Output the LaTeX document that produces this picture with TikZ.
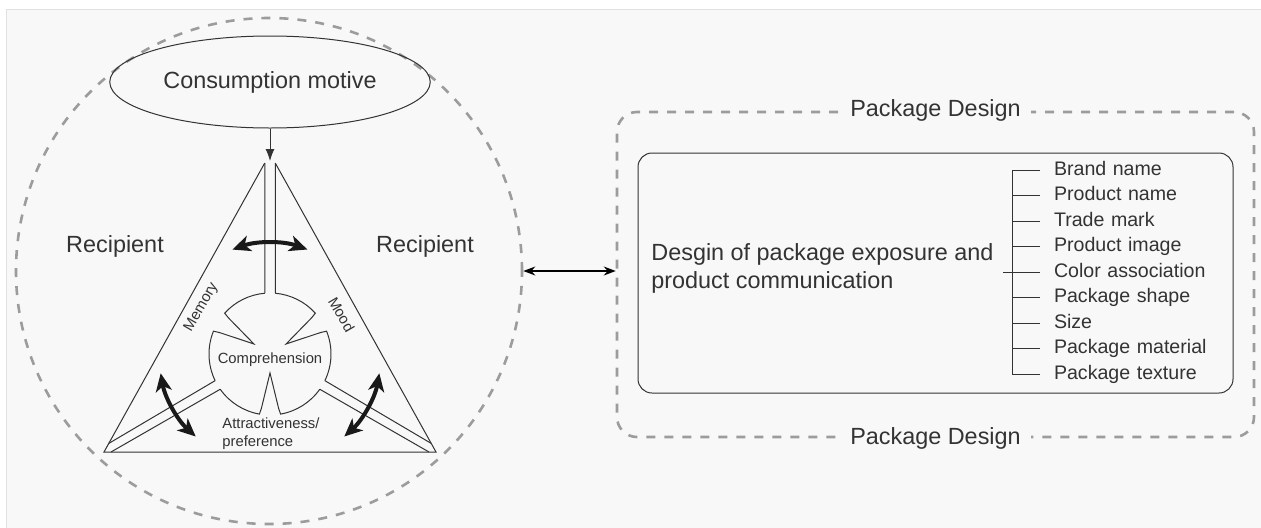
\documentclass[tikz,border=0pt]{standalone}
\usepackage{fontspec}
\setmainfont{Liberation Sans}
\usetikzlibrary{arrows.meta,shapes.geometric}

\definecolor{panel}{HTML}{F8F8F8}
\definecolor{ink}{HTML}{333333}
\definecolor{dashgray}{HTML}{9C9C9C}

\begin{document}
\begin{tikzpicture}[x=0.5pt, y=0.5pt, node distance = 12.75pt,
    big/.style = {font=\fontsize{11.7}{14}\selectfont, text=ink},
    small/.style = {font=\fontsize{7.4}{9}\selectfont, text=ink, inner sep=0pt},
    item/.style = {font=\fontsize{9.8}{12}\selectfont, text=ink, text width=80pt,
                   align=left, inner xsep=0pt, inner ysep=1pt,
                   text height=7.2pt, text depth=2pt},
    gdash/.style = {draw=dashgray, line width=1.3pt, dash pattern=on 4.5pt off 4.5pt},
    ln/.style = {draw=ink, line width=0.5pt},
    swing/.style = {draw=black!90, line width=2pt,
                    arrows={Stealth[length=9pt,width=8pt,inset=2.5pt]-Stealth[length=9pt,width=8pt,inset=2.5pt]}}]
    \useasboundingbox (0,0) rectangle (1261,527);
    \fill[white] (0,0) rectangle (1261,527);
    \filldraw[fill=panel, draw=black!12] (6,-5) rectangle (1270,518);

    % left part
    \node[circle, gdash, minimum size=253pt] (recv) at (269,256) {};
    \node[ellipse, ln, minimum width=128pt, minimum height=46pt, big] (motive) at (270,445) {Consumption motive};
    \node[big] (recl) at (115,281) {Recipient};
    \node[big] (recr) at (425,281) {Recipient};

    \coordinate (apex) at (270,366);
    \coordinate (pl) at (264.75,364);
    \coordinate (pr) at (275.25,364);
    \coordinate (bl) at (104,75);
    \coordinate (br) at (436,75);
    \coordinate (ul) at (108.8,83.6);
    \coordinate (ll) at (111,75);
    \coordinate (ur) at (431.2,83.6);
    \coordinate (lr) at (429,75);
    \coordinate (C) at (270,173);

    \draw[ln, -{Latex[length=6pt,width=4.5pt]}] (motive) -- (apex);
    \draw[ln] (pl) -- (bl) -- (br) -- (pr);

    \begin{scope}[shift={(C)}]
      % channels
      \draw[ln] (pl) -- (94.94:61);
      \draw[ln] (pr) -- (85.06:61);
      \draw[ln] (ul) -- (205.9:61);
      \draw[ln] (ll) -- (215.3:61);
      \draw[ln] (ur) -- (334.1:61);
      \draw[ln] (lr) -- (324.7:61);
      % comprehension with notches
      \draw[ln] (94.94:61) arc[start angle=94.94, end angle=138, radius=61]
        -- (139:55) -- (148:19) -- (157:55) -- (158:61)
        arc[start angle=158, end angle=205.9, radius=61];
      \draw[ln] (215.3:61) arc[start angle=215.3, end angle=260, radius=61]
        -- (261:55) -- (270:19) -- (279:55) -- (280:61)
        arc[start angle=280, end angle=324.7, radius=61];
      \draw[ln] (334.1:61) arc[start angle=334.1, end angle=382, radius=61]
        -- (383:55) -- (392:19) -- (401:55) -- (402:61)
        arc[start angle=402, end angle=445.06, radius=61];
      % swings
      \draw[swing] (70.3:111) arc[start angle=70.3, end angle=109.8, radius=111];
      \draw[swing] (190:111) arc[start angle=190, end angle=228, radius=111];
      \draw[swing] (312:111) arc[start angle=312, end angle=350, radius=111];
    \end{scope}

    \node[small, rotate=60] (mem) at (201.5,219.5) {Memory};
    \node[small, rotate=-60] (mood) at (341.5,212.5) {Mood};
    \node[small] (comp) at (270,167) {Comprehension};
    \node[small, align=left, anchor=west] (attr) at (222,93) {Attractiveness/\\preference};

    % right part
    \node[gdash, rounded corners=10pt, minimum width=318.5pt, minimum height=162.5pt] (pkg) at (935.5,252.5) {};
    \node[big, fill=panel, inner xsep=5pt] (pdtop) at (pkg.north) {Package Design};
    \node[big, fill=panel, inner xsep=5pt] (pdbot) at (pkg.south) {Package Design};
    \node[ln, rounded corners=7pt, minimum width=297.5pt, minimum height=120pt] (inner) at (935.5,254) {};

    \node[big, align=left, anchor=west, inner sep=0pt] (expo) at (651,259)
        {Desgin of package exposure and\\product communication};

    \node[item] (b1) at (1134,357) {Brand name};
    \node[item] (b2) [below of = b1] {Product name};
    \node[item] (b3) [below of = b2] {Trade mark};
    \node[item] (b4) [below of = b3] {Product image};
    \node[item] (b5) [below of = b4] {Color association};
    \node[item] (b6) [below of = b5] {Package shape};
    \node[item] (b7) [below of = b6] {Size};
    \node[item] (b8) [below of = b7] {Package material};
    \node[item] (b9) [below of = b8] {Package texture};

    \coordinate (brk) at (1012,255);
    \coordinate (stub) at (1003,255);
    \draw[ln] (b1.west -| brk) -- (b9.west -| brk);
    \draw[ln] (stub) -- (brk);
    \foreach \i in {1,...,9}
      \draw[ln] (b\i.west -| brk) -- ([xshift=-7pt]b\i.west);

    \draw[ln, line width=0.7pt, draw=black,
          arrows={Stealth[length=6pt,width=4.5pt]-Stealth[length=6pt,width=4.5pt]}]
        (recv.east) -- (recv.east -| pkg.west);
\end{tikzpicture}
\end{document}
